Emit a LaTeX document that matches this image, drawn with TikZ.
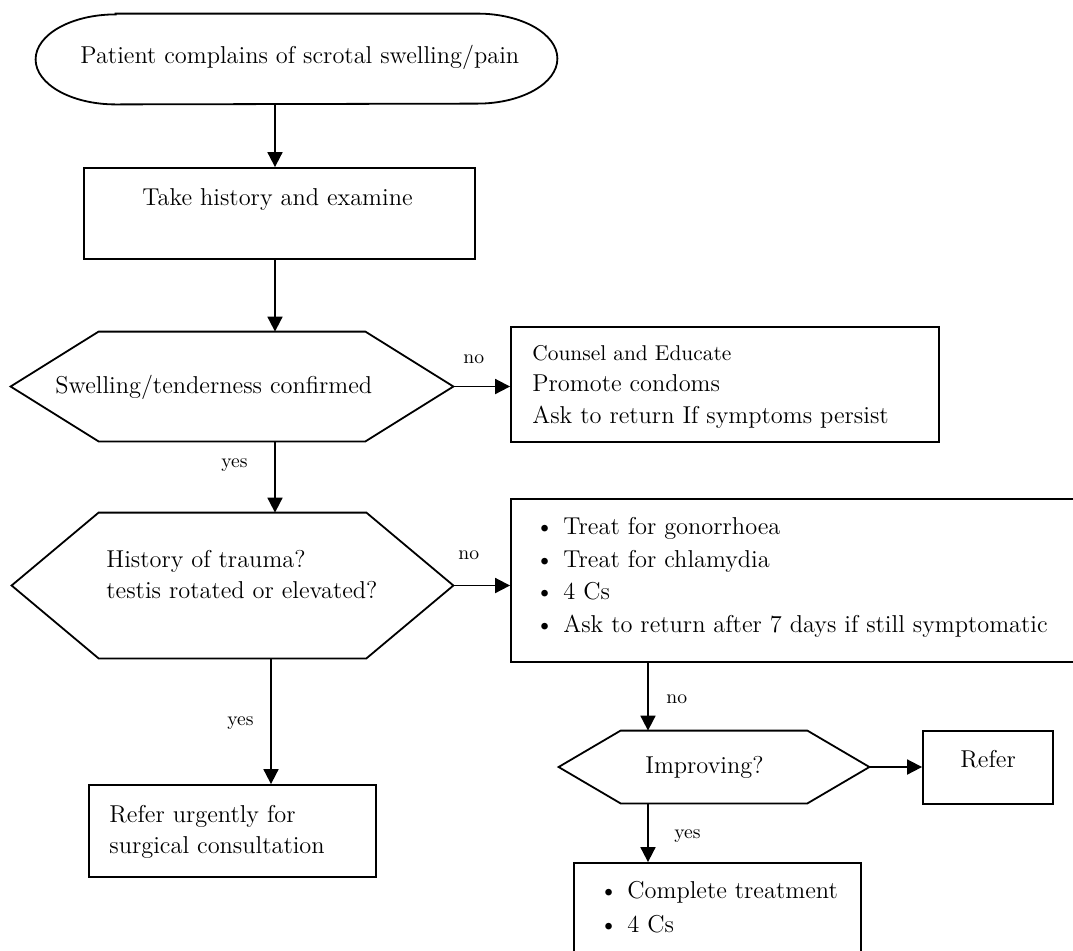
\documentclass[tikz,border=0pt]{standalone}
\usepackage{tikz}
\usetikzlibrary{arrows.meta}

\newcommand{\bodysize}{\fontsize{12.2}{15.5}\selectfont}
\newcommand{\labsize}{\fontsize{9.8}{12}\selectfont}
\newcommand{\itembul}{\makebox[14pt][l]{\textbullet}}

\tikzset{
  % frames and holders
  boxframe/.style = {draw, line width=0.9pt, inner sep=0pt},
  holder/.style   = {inner sep=0pt},
  outline/.style  = {line width=0.9pt, line join=miter},
  % connectors
  flow/.style     = {line width=0.9pt, -{Triangle[length=7.5pt,width=7.5pt]}},
  % texts (base = last line)
  body/.style     = {anchor=base west, inner sep=0pt, align=left, font=\bodysize},
  ans/.style      = {anchor=base west, inner sep=0pt, font=\labsize},
}

\begin{document}
\begin{tikzpicture}[x=0.5pt, y=-0.5pt]
  \useasboundingbox (0,0) rectangle (1073,950);
  \clip (0,0) rectangle (1073,950);

  % start
  \node[holder, minimum width=260.5pt, minimum height=45pt] (start) at (296.5,59) {};
  \draw[outline] ([xshift=40pt]start.north west) -- ([xshift=-40pt]start.north east)
    arc[start angle=90, end angle=-90, x radius=40pt, y radius=22.5pt]
    -- ([xshift=40pt]start.south west)
    arc[start angle=270, end angle=90, x radius=40pt, y radius=22.5pt] -- cycle;
  \node[body] (startText) at (80,63) {Patient complains of scrotal swelling/pain};

  % history
  \node[boxframe, minimum width=195.5pt, minimum height=45.5pt] (hist) at (279.5,213.5) {};
  \node[body] (histText) at (142,205) {Take history and examine};

  % first decision
  \node[holder, minimum width=221pt, minimum height=54.5pt] (hexA) at (232,386.5) {};
  \draw[outline] (hexA.west) -- ([xshift=44pt]hexA.north west) -- ([xshift=-44pt]hexA.north east)
    -- (hexA.east) -- ([xshift=-44pt]hexA.south east) -- ([xshift=44pt]hexA.south west) -- cycle;
  \node[body] (hexAText) at (55,393) {Swelling/tenderness confirmed};

  \node[boxframe, minimum width=214pt, minimum height=57.5pt] (counsel) at (725,384.5) {};
  \node[body, font=\fontsize{10.7}{13}\selectfont] (counselHead) at (532,360) {Counsel and Educate};
  \node[body, font=\fontsize{12.2}{16}\selectfont] (counselText) at (532,423)
    {Promote condoms\\Ask to return If symptoms persist};

  % second decision
  \node[holder, minimum width=220.5pt, minimum height=72.5pt] (hexB) at (232.5,585.5) {};
  \draw[outline] (hexB.west) -- ([xshift=43.5pt]hexB.north west) -- ([xshift=-43.5pt]hexB.north east)
    -- (hexB.east) -- ([xshift=-43.5pt]hexB.south east) -- ([xshift=43.5pt]hexB.south west) -- cycle;
  \node[body] (hexBText) at (106,598) {History of trauma?\\testis rotated or elevated?};

  \node[boxframe, minimum width=292pt, minimum height=81.5pt] (treat) at (803,580.5) {};
  \node[body, font=\fontsize{12.2}{16.2}\selectfont] (treatText) at (535,632)
    {\itembul Treat for gonorrhoea\\\itembul Treat for chlamydia\\\itembul 4 Cs\\
     \itembul Ask to return after 7 days if still symptomatic};

  \node[boxframe, minimum width=143.5pt, minimum height=46pt] (urgent) at (232.5,831) {};
  \node[body] (urgentText) at (109,853) {Refer urgently for\\surgical consultation};

  % third decision
  \node[holder, minimum width=155pt, minimum height=36pt] (improve) at (714,767) {};
  \draw[outline] (improve.west) -- ([xshift=31pt]improve.north west) -- ([xshift=-31pt]improve.north east)
    -- (improve.east) -- ([xshift=-31pt]improve.south east) -- ([xshift=31pt]improve.south west) -- cycle;
  \node[body] (improveText) at (645,773) {Improving?};

  \node[boxframe, minimum width=65pt, minimum height=36.5pt] (refer) at (988,767.5) {};
  \node[body] (referText) at (960,767) {Refer};

  \node[boxframe, minimum width=143.5pt, minimum height=60pt] (final) at (717.5,923) {};
  \node[body, font=\fontsize{12.2}{17}\selectfont] (finalText) at (599,932)
    {\itembul Complete treatment\\\itembul 4 Cs};

  % connectors
  \coordinate (colA) at (275,0);
  \coordinate (colB) at (271,0);
  \coordinate (colC) at (648,0);
  \draw[flow] (start.south -| colA) -- (hist.north -| colA);
  \draw[flow] (hist.south -| colA) -- (hexA.north -| colA);
  \draw[flow] (hexA.south -| colA) -- (hexB.north -| colA);
  \draw[flow] (hexA.east) -- (hexA.east -| counsel.west);
  \draw[flow] (hexB.east) -- (hexB.east -| treat.west);
  \draw[flow] (hexB.south -| colB) -- (urgent.north -| colB);
  \draw[flow] (treat.south -| colC) -- (improve.north -| colC);
  \draw[flow] (improve.east) -- (improve.east -| refer.west);
  \draw[flow] (improve.south -| colC) -- (final.north -| colC);

  \node[ans] (noA) at (463,363) {no};
  \node[ans] (yesA) at (221,467) {yes};
  \node[ans] (noB) at (458,559) {no};
  \node[ans] (yesB) at (227,725) {yes};
  \node[ans] (noC) at (666,703) {no};
  \node[ans] (yesC) at (674,838) {yes};
\end{tikzpicture}
\end{document}
